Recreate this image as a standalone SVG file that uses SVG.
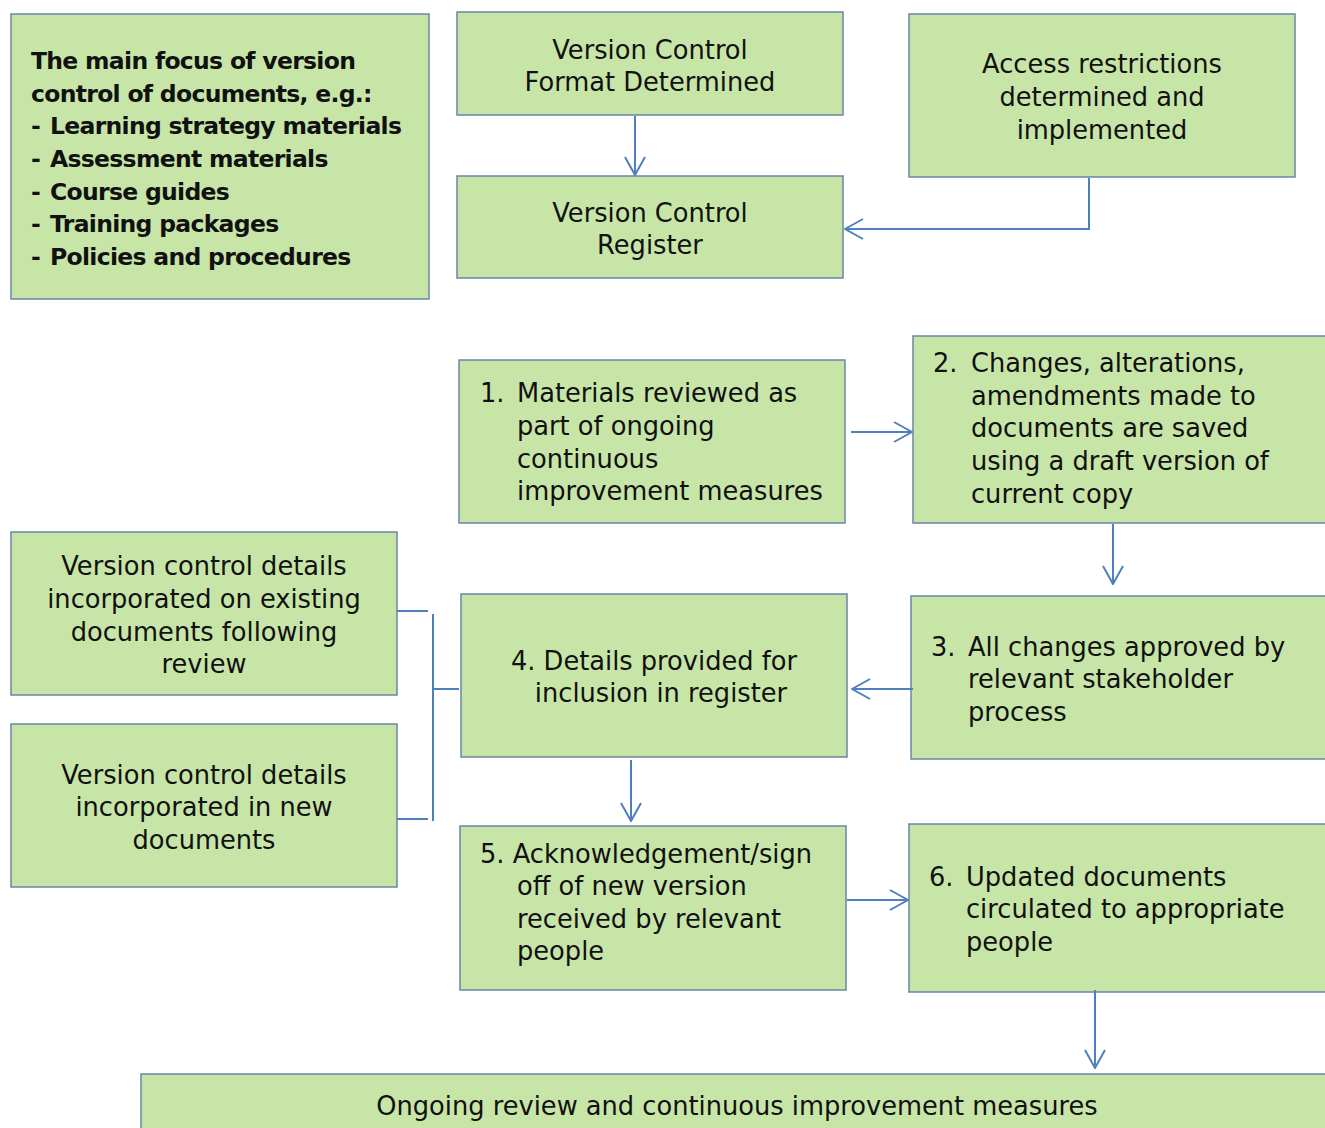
<svg xmlns="http://www.w3.org/2000/svg" width="1325" height="1128" viewBox="0 0 1325 1128">
<defs>
<style>
.box{fill:#C8E5A8;stroke:#6A86A8;stroke-width:1.5}
text{font-family:"DejaVu Sans","Liberation Sans",sans-serif;font-size:25.7px;fill:#111}
.c{text-anchor:middle}
.b{font-weight:bold;font-size:23.5px;letter-spacing:-0.7px}
.ln{fill:none;stroke:#4F7FBF;stroke-width:2}
</style>
<marker id="ah" viewBox="0 0 20 24" refX="19" refY="12" markerWidth="20" markerHeight="24" markerUnits="userSpaceOnUse" orient="auto">
<path d="M1,2 L19,12 L1,22" fill="none" stroke="#4F7FBF" stroke-width="2"/>
</marker>
</defs>
<rect width="1325" height="1128" fill="#fff"/>

<g id="focus">
<rect class="box" x="11" y="14" width="418" height="285"/>
<text class="b" x="31" y="69">The main focus of version</text>
<text class="b" x="31" y="102">control of documents, e.g.:</text>
<text class="b" x="31" y="134">-</text><text class="b" x="50" y="134">Learning strategy materials</text>
<text class="b" x="31" y="167">-</text><text class="b" x="50" y="167">Assessment materials</text>
<text class="b" x="31" y="200">-</text><text class="b" x="50" y="200">Course guides</text>
<text class="b" x="31" y="232">-</text><text class="b" x="50" y="232">Training packages</text>
<text class="b" x="31" y="265">-</text><text class="b" x="50" y="265">Policies and procedures</text>
</g>

<g id="format">
<rect class="box" x="457" y="12" width="386" height="103"/>
<text class="c" x="650" y="59">Version Control</text>
<text class="c" x="650" y="91">Format Determined</text>
</g>

<g id="access">
<rect class="box" x="909" y="14" width="386" height="163"/>
<text class="c" x="1102" y="73">Access restrictions</text>
<text class="c" x="1102" y="106">determined and</text>
<text class="c" x="1102" y="139">implemented</text>
</g>

<g id="register">
<rect class="box" x="457" y="176" width="386" height="102"/>
<text class="c" x="650" y="222">Version Control</text>
<text class="c" x="650" y="254">Register</text>
</g>

<g id="step1">
<rect class="box" x="459" y="360" width="386" height="163"/>
<text x="480" y="402">1.</text>
<text x="517" y="402">Materials reviewed as</text>
<text x="517" y="435">part of ongoing</text>
<text x="517" y="468">continuous</text>
<text x="517" y="500">improvement measures</text>
</g>

<g id="step2">
<rect class="box" x="913" y="336" width="420" height="187"/>
<text x="933" y="372">2.</text>
<text x="971" y="372">Changes, alterations,</text>
<text x="971" y="405">amendments made to</text>
<text x="971" y="437">documents are saved</text>
<text x="971" y="470">using a draft version of</text>
<text x="971" y="503">current copy</text>
</g>

<g id="existing">
<rect class="box" x="11" y="532" width="386" height="163"/>
<text class="c" x="204" y="575">Version control details</text>
<text class="c" x="204" y="608">incorporated on existing</text>
<text class="c" x="204" y="641">documents following</text>
<text class="c" x="204" y="673">review</text>
</g>

<g id="step4">
<rect class="box" x="461" y="594" width="386" height="163"/>
<text class="c" x="654" y="670">4. Details provided for</text>
<text class="c" x="661" y="702">inclusion in register</text>
</g>

<g id="step3">
<rect class="box" x="911" y="596" width="420" height="163"/>
<text x="931" y="656">3.</text>
<text x="968" y="656">All changes approved by</text>
<text x="968" y="688">relevant stakeholder</text>
<text x="968" y="721">process</text>
</g>

<g id="newdocs">
<rect class="box" x="11" y="724" width="386" height="163"/>
<text class="c" x="204" y="784">Version control details</text>
<text class="c" x="204" y="816">incorporated in new</text>
<text class="c" x="204" y="849">documents</text>
</g>

<g id="step5">
<rect class="box" x="460" y="826" width="386" height="164"/>
<text x="480" y="863">5. Acknowledgement/sign</text>
<text x="517" y="895">off of new version</text>
<text x="517" y="928">received by relevant</text>
<text x="517" y="960">people</text>
</g>

<g id="step6">
<rect class="box" x="909" y="824" width="424" height="168"/>
<text x="929" y="886">6.</text>
<text x="966" y="886">Updated documents</text>
<text x="966" y="918">circulated to appropriate</text>
<text x="966" y="951">people</text>
</g>

<g id="ongoing">
<rect class="box" x="141" y="1074" width="1200" height="70"/>
<text class="c" x="737" y="1115">Ongoing review and continuous improvement measures</text>
</g>

<g id="connectors">
<path class="ln" d="M635,116 V175" marker-end="url(#ah)"/>
<path class="ln" d="M1089,178 V229 H845" marker-end="url(#ah)"/>
<path class="ln" d="M851,432 H912" marker-end="url(#ah)"/>
<path class="ln" d="M1113,524 V584" marker-end="url(#ah)"/>
<path class="ln" d="M913,689 H852" marker-end="url(#ah)"/>
<path class="ln" d="M397,611 H428"/>
<path class="ln" d="M433,614 V821"/>
<path class="ln" d="M433,689 H459"/>
<path class="ln" d="M397,819 H428"/>
<path class="ln" d="M631,760 V821" marker-end="url(#ah)"/>
<path class="ln" d="M847,900 H908" marker-end="url(#ah)"/>
<path class="ln" d="M1095,990 V1068" marker-end="url(#ah)"/>
</g>
</svg>
